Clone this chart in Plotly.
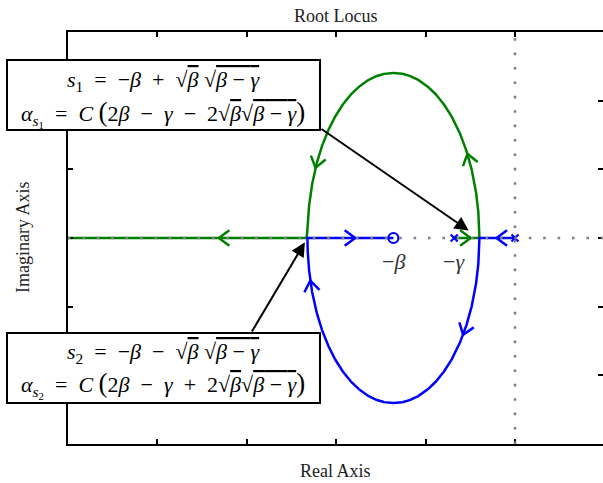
import numpy as np
import plotly.graph_objects as go

# Open-loop system  G(s) = (s + beta) / (s (s + gamma))
beta = 1.36
gamma = 0.68
poles = [0.0, -gamma]
zeros = [-beta]
pole_labels = ["", "−<i>γ</i>"]
zero_labels = ["−<i>β</i>"]

# Gains at which direction chevrons are drawn on each branch
blue_arrow_gains = [0.064, 0.44, 3.88, 4.42]
green_arrow_gains = [0.085, 0.35, 3.75, 4.42]

BLUE = "#0000ff"
GREEN = "#008000"
GREY = "#808080"

# Plot-area geometry (pixels) and axis ranges
W, H = 603, 483
L, R, T, B = 68, 603, 32, 444
X0, X1 = -5.0, -5.0 + (R - L) / 89.4
Y0, Y1 = -1.2, 1.2


def to_px(x, y):
    return (L + (x - X0) / (X1 - X0) * (R - L),
            T + (Y1 - y) / (Y1 - Y0) * (B - T))


def to_data(px, py):
    return (X0 + (px - L) / (R - L) * (X1 - X0),
            Y1 - (py - T) / (B - T) * (Y1 - Y0))


def paper(px, py):
    return (px - L) / (R - L), (B - py) / (B - T)


def closed_loop_roots(K):
    """Roots of s^2 + (gamma + K) s + K beta = 0, split into the two branches."""
    K = np.asarray(K, dtype=float)
    b = gamma + K
    disc = b * b - 4 * K * beta
    sq = np.sqrt(disc.astype(complex))
    r_plus = (-b + sq) / 2
    r_minus = (-b - sq) / 2
    cplx = disc < 0
    blue = np.where(cplx, r_minus, r_plus)
    green = np.where(cplx, r_plus, r_minus)
    return blue, green


# Break-away / break-in gains (double roots)
c = 4 * beta - 2 * gamma
K1 = (c - np.sqrt(c * c - 4 * gamma ** 2)) / 2
K2 = (c + np.sqrt(c * c - 4 * gamma ** 2)) / 2

t = np.linspace(0, np.pi, 800)
gains = np.concatenate([
    np.linspace(0, K1, 200),
    K1 + (K2 - K1) * (1 - np.cos(t)) / 2,
    K2 + np.geomspace(1e-7, 3000, 800),
])
blue_branch, green_branch = closed_loop_roots(gains)


def chevrons(branch_index, arrow_gains, half=5.5, arm=13.0, ang=np.deg2rad(36)):
    xs, ys = [], []
    for k in arrow_gains:
        p = closed_loop_roots([k])[branch_index][0]
        q = closed_loop_roots([k * (1 + 1e-5)])[branch_index][0]
        cx, cy = to_px(p.real, p.imag)
        qx, qy = to_px(q.real, q.imag)
        d = np.array([qx - cx, qy - cy])
        d /= np.linalg.norm(d)
        tip = np.array([cx, cy]) + d * half
        for sgn in (1, -1):
            ca, sa = np.cos(sgn * ang), np.sin(sgn * ang)
            rd = np.array([ca * d[0] - sa * d[1], sa * d[0] + ca * d[1]])
            back = tip - arm * rd
            bx, by = to_data(*back)
            tx, ty = to_data(*tip)
            xs += [bx, tx]
            ys += [by, ty]
        xs.append(None)
        ys.append(None)
    return xs, ys


fig = go.Figure()

fig.add_trace(go.Scatter(x=green_branch.real, y=green_branch.imag, mode="lines",
                         line=dict(color=GREEN, width=2.5), hoverinfo="skip"))
fig.add_trace(go.Scatter(x=blue_branch.real, y=blue_branch.imag, mode="lines",
                         line=dict(color=BLUE, width=2.5), hoverinfo="skip"))

for idx, gains_list, col in ((1, green_arrow_gains, GREEN), (0, blue_arrow_gains, BLUE)):
    cx_, cy_ = chevrons(idx, gains_list)
    fig.add_trace(go.Scatter(x=cx_, y=cy_, mode="lines",
                             line=dict(color=col, width=2.5), hoverinfo="skip"))

fig.add_trace(go.Scatter(x=zeros, y=[0] * len(zeros), mode="markers",
                         marker=dict(symbol="circle-open", size=10, color=BLUE,
                                     line=dict(width=2.2, color=BLUE))))
fig.add_trace(go.Scatter(x=poles, y=[0] * len(poles), mode="markers",
                         marker=dict(symbol="x-thin", size=7, color=BLUE,
                                     line=dict(width=2.2, color=BLUE))))
# carrier trace for the right-hand tick axis
fig.add_trace(go.Scatter(x=[None], y=[None], yaxis="y2", showlegend=False))

# dotted real and imaginary axes
fig.add_shape(type="line", x0=X0, x1=X1, y0=0, y1=0, layer="above",
              line=dict(color=GREY, width=2.6, dash="2.6px,11.8px"))
fig.add_shape(type="line", x0=0, x1=0, y0=Y0, y1=Y1, layer="above",
              line=dict(color=GREY, width=2.6, dash="2.6px,11.8px"))

SERIF = "Liberation Serif"
ann = []
for xv, lab in zip(zeros + poles, zero_labels + pole_labels):
    if lab:
        ann.append(dict(x=xv, y=-0.135, xref="x", yref="y", text=lab, showarrow=False,
                        xanchor="center", yanchor="middle",
                        font=dict(family=SERIF, size=22, color="#333333")))

NB = "\u00a0"
OV = "<span style='text-decoration:overline'>"
sq_b = "√" + OV + "<i>β</i></span>"
sq_bg = "√" + OV + "<i>β</i>" + NB + "− <i>γ</i></span>"
BIG_L = "<span style='font-size:27px'>(</span>"
BIG_R = "<span style='font-size:27px'>)</span>"
EQ = NB * 2 + "=" + NB * 2
PL = NB + " + " + NB
MI = NB + " − " + NB

box_lines = [
    ("<i>s</i><sub>1</sub>" + EQ + "−<i>β</i>" + PL + sq_b + " " + sq_bg, 81),
    ("<i>α</i><sub><i>s</i><sub>1</sub></sub>" + EQ + "<i>C</i> " + BIG_L + "2<i>β</i>" + MI
     + "<i>γ</i>" + MI + "2" + sq_b + sq_bg + BIG_R, 114),
    ("<i>s</i><sub>2</sub>" + EQ + "−<i>β</i>" + MI + sq_b + " " + sq_bg, 353),
    ("<i>α</i><sub><i>s</i><sub>2</sub></sub>" + EQ + "<i>C</i> " + BIG_L + "2<i>β</i>" + MI
     + "<i>γ</i>" + PL + "2" + sq_b + sq_bg + BIG_R, 385),
]
for txt, py in box_lines:
    px_, py_ = paper(163, py)
    ann.append(dict(x=px_, y=py_, xref="paper", yref="paper", text=txt, showarrow=False,
                    xanchor="center", yanchor="middle",
                    font=dict(family=SERIF, size=22, color="black")))

# boxes
for top, bot in ((60, 130), (333, 403)):
    x0p, y0p = paper(7, bot)
    x1p, y1p = paper(320, top)
    fig.add_shape(type="rect", xref="paper", yref="paper", x0=x0p, x1=x1p, y0=y0p, y1=y1p,
                  line=dict(color="black", width=2), fillcolor="white", layer="above")

# pointer arrows to the break-away / break-in points
s1 = -beta + np.sqrt(beta * (beta - gamma))
s2 = -beta - np.sqrt(beta * (beta - gamma))
for target, tail_px, stand in ((s1, (320, 128), 13), (s2, (251, 333), 5)):
    axd, ayd = to_data(*tail_px)
    ann.append(dict(x=target, y=0, xref="x", yref="y", ax=axd, ay=ayd, axref="x", ayref="y",
                    text="", showarrow=True, arrowhead=2, arrowsize=1.4, arrowwidth=2,
                    arrowcolor="black", standoff=stand))

# titles
for label, (cxp, cyp), angle in (("Root Locus", (335.5, 16), 0),
                                 ("Real Axis", (335, 471), 0),
                                 ("Imaginary Axis", (23, 238), -90)):
    tx, ty = paper(cxp, cyp)
    ann.append(dict(x=tx, y=ty, xref="paper", yref="paper", text=label, showarrow=False,
                    xanchor="center", yanchor="middle", textangle=angle,
                    font=dict(family=SERIF, size=18, color="#222222")))

fig.update_layout(
    width=W, height=H,
    margin=dict(l=L, r=W - R, t=T, b=H - B),
    paper_bgcolor="white", plot_bgcolor="white",
    showlegend=False,
    annotations=ann,
    xaxis=dict(range=[X0, X1], showgrid=False, zeroline=False, showline=True, mirror="ticks",
               linecolor="black", linewidth=2, ticks="inside", ticklen=5, tickwidth=1.5,
               tickcolor="black", dtick=1, tick0=0, showticklabels=False),
    yaxis=dict(range=[Y0, Y1], showgrid=False, zeroline=False, showline=True, mirror=False,
               linecolor="black", linewidth=2, ticks="inside", ticklen=5, tickwidth=1.5,
               tickcolor="black", dtick=0.4, tick0=0, showticklabels=False),
    yaxis2=dict(range=[Y0, Y1], overlaying="y", side="right", showgrid=False, zeroline=False,
                showline=False, ticks="inside", ticklen=5, tickwidth=1.5, tickcolor="black",
                dtick=0.4, tick0=0, showticklabels=False),
)

fig.write_html("out.html")
